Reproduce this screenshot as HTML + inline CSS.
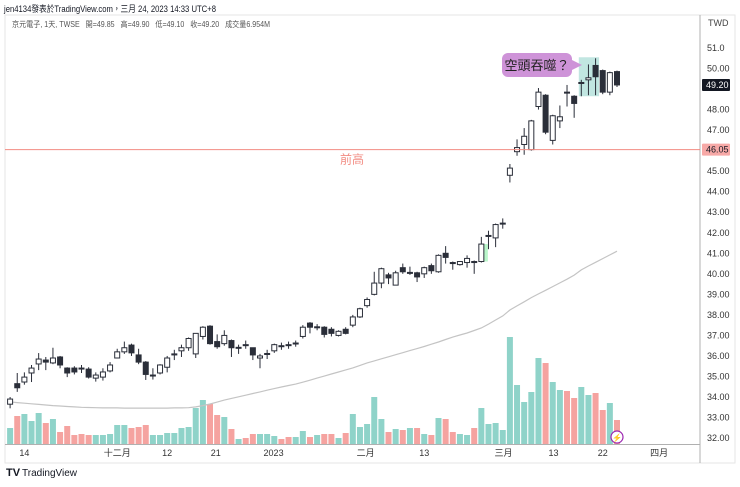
<!DOCTYPE html>
<html><head><meta charset="utf-8"><style>
body{margin:0;background:#fff;width:740px;height:482px;overflow:hidden;font-family:"Liberation Sans","Noto Sans CJK TC",sans-serif}
svg text{font-family:"Liberation Sans","Noto Sans CJK TC",sans-serif;white-space:pre}
</style></head><body>
<svg id="c" width="740" height="482" viewBox="0 0 740 482" xmlns="http://www.w3.org/2000/svg">
<rect x="0" y="0" width="740" height="482" fill="#fff"/>
<text x="4" y="12" font-size="9" fill="#131722" textLength="212" lengthAdjust="spacingAndGlyphs">jen4134發表於TradingView.com，三月 24, 2023 14:33 UTC+8</text>
<rect x="5" y="15" width="730" height="448" fill="none" stroke="#e6e6e6"/>
<text x="12" y="27" font-size="8" fill="#555" textLength="258" lengthAdjust="spacingAndGlyphs">京元電子, 1天, TWSE   開=49.85   高=49.90   低=49.10   收=49.20   成交量6.954M</text>
<text x="708" y="26" font-size="9" fill="#444">TWD</text>
<line x1="700" y1="15" x2="700" y2="463" stroke="#b0b0b0"/>
<line x1="5" y1="444.5" x2="700" y2="444.5" stroke="#b0b0b0"/>
<g id="vol"></g><g id="ma"></g><g id="candles"></g><g id="axes"></g>
<g><text x="6" y="476" font-size="11" font-weight="bold" fill="#131722">TV</text><text x="22" y="476" font-size="10" fill="#131722">TradingView</text></g>
</svg>
<script>
const opens=[33.65,34.65,34.73,35.17,35.61,35.80,35.66,35.95,35.41,35.41,35.41,35.36,34.92,34.97,35.27,35.9,36.2,36.53,36.05,35.7,35.05,35.17,35.45,36.05,36.25,36.4,36.1,36.95,37.45,36.7,36.6,36.75,36.4,36.55,36.4,35.9,36.1,36.25,36.5,36.55,36.62,36.95,37.6,37.4,37.4,37.3,37.0,37.3,37.5,37.9,38.45,39.0,39.55,39.95,39.45,40.3,40.05,40.05,40.0,40.4,40.1,41.0,40.55,40.45,40.55,40.6,40.6,41.85,41.75,42.45,44.8,45.95,46.3,46.05,48.15,48.7,46.5,47.45,48.85,48.65,49.3,49.45,50.15,49.9,48.85,49.85];
const closes=[33.9,34.45,34.97,35.41,35.85,35.70,35.9,35.56,35.17,35.22,35.38,34.97,35.07,35.22,35.56,36.2,36.4,36.15,35.7,35.1,35.07,35.56,35.9,36.1,36.4,36.85,37.1,37.4,36.6,36.45,37.0,36.4,36.42,36.53,36.05,36.0,36.12,36.55,36.45,36.53,36.63,37.4,37.4,37.42,37.05,37.1,37.2,37.1,37.9,38.3,38.75,39.55,40.25,39.8,40.05,40.1,40.07,39.85,40.3,40.15,40.9,40.8,40.5,40.6,40.75,40.55,41.45,41.87,42.4,42.47,45.15,46.15,46.7,47.45,48.85,46.9,47.7,47.65,48.83,48.3,49.32,49.55,49.6,48.85,49.8,49.2];
const highs=[34.0,35.17,35.2,35.56,36.14,35.95,36.4,36.0,35.45,35.5,35.56,35.45,35.2,35.4,35.7,36.35,36.7,36.6,36.35,35.75,35.4,35.6,36.0,36.3,36.55,36.9,37.1,37.45,37.5,37.05,37.25,36.8,36.55,36.75,36.4,36.1,36.3,36.6,36.65,36.7,36.75,37.5,37.65,37.55,37.45,37.4,37.25,37.4,38.0,38.35,38.85,40.1,40.3,40.05,40.15,40.5,40.35,40.1,40.35,40.5,40.95,41.35,40.6,40.62,40.9,40.65,41.8,42.1,42.45,42.7,45.35,46.55,47.1,47.5,49.05,48.75,47.75,48.2,49.2,48.7,49.45,50.2,50.5,49.95,49.85,49.9];
const lows=[33.45,34.25,34.6,34.73,35.31,35.31,35.6,35.4,34.97,35.1,35.17,34.9,34.75,34.8,35.2,35.9,36.1,36.0,35.6,34.83,34.85,35.1,35.2,35.8,35.95,36.25,35.9,36.8,36.55,36.35,36.5,35.95,36.1,36.35,35.8,35.4,35.85,36.15,36.3,36.35,36.45,36.85,37.1,37.25,36.9,36.95,36.95,37.05,37.4,37.85,38.35,38.95,39.3,39.5,39.45,40.0,39.95,39.6,39.8,40.0,40.05,40.5,40.2,40.4,40.3,40.0,40.55,41.2,41.3,42.2,44.45,45.75,45.8,46.0,48.0,46.8,46.3,47.1,48.15,47.6,48.65,48.7,48.7,48.75,48.7,49.1];
const volumes=[16,28,30,23,31,21,25,12,18,9,10,9,9,9,10,19,19,16,17,19,9,9,11,11,16,17,36,44,40,29,27,15,5,6,10,10,10,8,5,7,7,13,7,9,10,10,6,11,30,17,20,47,25,12,15,14,16,16,10,9,26,25,12,10,9,16,36,20,21,14,107,59,42,52,86,81,62,54,53,46,57,49,51,34,41,24];
const maValues=[33.76,33.73,33.70,33.67,33.64,33.61,33.58,33.56,33.54,33.52,33.50,33.49,33.48,33.47,33.47,33.47,33.46,33.46,33.46,33.46,33.46,33.46,33.46,33.47,33.47,33.48,33.52,33.58,33.66,33.75,33.85,33.93,34.01,34.09,34.17,34.25,34.33,34.41,34.49,34.56,34.63,34.72,34.82,34.92,35.02,35.12,35.22,35.32,35.42,35.54,35.66,35.76,35.86,35.96,36.06,36.16,36.26,36.36,36.46,36.57,36.68,36.80,36.92,37.02,37.12,37.24,37.36,37.55,37.75,37.95,38.24,38.44,38.64,38.84,39.02,39.20,39.38,39.56,39.74,39.94,40.19,40.38,40.56,40.74,40.92,41.10];
const priceTicks=[51,50,48,47,45,44,43,42,41,40,39,38,37,36,35,34,33,32];
const priceTickLabels=["51.0","50.00","48.00","47.00","45.00","44.00","43.00","42.00","41.00","40.00","39.00","38.00","37.00","36.00","35.00","34.00","33.00","32.00"];
const timeLabelIdx=[2,15,22,28.8,36.9,49.8,58,69.1,76.1,83,90.9];
const timeLabels=["14","十二月","12","21","2023","二月","13","三月","13","22","四月"];
const lastPrice=49.20, prevHigh=46.05;

const NS="http://www.w3.org/2000/svg";
const N=opens.length, step=7.14, lastX=617;
const xAt=i=>lastX-(N-1-i)*step;
const yAt=p=>48+(51-p)*20.53;
const vBase=444;
const vAt=v=>vBase-v;
function mk(tag,attrs,parent){const e=document.createElementNS(NS,tag);for(const k in attrs)e.setAttribute(k,attrs[k]);parent.appendChild(e);return e;}
const gV=document.getElementById('vol'),gC=document.getElementById('candles'),gM=document.getElementById('ma'),gA=document.getElementById('axes');
for(let i=0;i<N;i++){
  const up=closes[i]>=opens[i];
  const b=mk('rect',{x:xAt(i)-3,y:vAt(volumes[i]),width:6,height:vBase-vAt(volumes[i]),fill:up?'#8fd3c9':'#f5a3a0'},gV);
  
  
}
let d='';
for(let i=0;i<N;i++){d+=(i?'L':'M')+xAt(i).toFixed(1)+' '+yAt(maValues[i]).toFixed(1);}
const ml=mk('path',{d:d,fill:'none',stroke:'#c4c4c4','stroke-width':1.2},gM);


const hb=mk('rect',{x:xAt(80)-2.5,y:yAt(50.5)-1,width:xAt(82)-xAt(80)+6,height:yAt(48.7)-yAt(50.5)+2,fill:'#b2e0da',opacity:0.8},gC);


const gr=mk('rect',{x:xAt(66)+2.5,y:yAt(41.45),width:4,height:yAt(40.6)-yAt(41.45),fill:'#b9f6ca'},gC);


for(let i=0;i<N;i++){
  const up=closes[i]>=opens[i],x=xAt(i);
  const g=mk('g',{},gC);
  
  
  mk('line',{x1:x,x2:x,y1:yAt(highs[i]),y2:yAt(lows[i]),stroke:'#2a2e39','stroke-width':1},g);
  const t=yAt(Math.max(opens[i],closes[i])),bt=yAt(Math.min(opens[i],closes[i]));
  mk('rect',{x:x-2.5,y:t,width:5,height:Math.max(1,bt-t),fill:up?'#fff':'#2a2e39',stroke:'#2a2e39','stroke-width':1},g);
}
const ph=mk('line',{x1:5,x2:700,y1:yAt(prevHigh),y2:yAt(prevHigh),stroke:'#f28b82','stroke-width':1},gA);


const pt=mk('text',{x:340,y:yAt(prevHigh)+14,'font-size':12,fill:'#f28b82'},gA);pt.textContent='前高';


priceTicks.forEach((p,k)=>{const t=mk('text',{x:707,y:yAt(p)+3,'font-size':9,fill:'#333'},gA);t.textContent=priceTickLabels[k];
  
  });
function tag(p,bg,fg,name){const g=mk('g',{},gA);
  
  
  mk('rect',{x:702,y:yAt(p)-6,width:28,height:12,fill:bg,rx:1},g);
  const t=mk('text',{x:706,y:yAt(p)+3,'font-size':9,fill:fg},g);t.textContent=p.toFixed(2);}
tag(prevHigh,'#f7a9a7','#131722','previous-high-price-tag');
tag(lastPrice,'#131722','#fff','last-price-tag');
timeLabelIdx.forEach((ix,k)=>{const t=mk('text',{x:xAt(ix),y:456,'font-size':9,fill:'#333','text-anchor':'middle'},gA);t.textContent=timeLabels[k];
  
  });
const cg=mk('g',{},gA);


mk('rect',{x:502,y:53,width:70,height:24,rx:6,fill:'#ce93d8'},cg);
mk('path',{d:'M570 59 L582 65 L570 71 Z',fill:'#ce93d8'},cg);
const ct=mk('text',{x:537,y:70,'font-size':13,fill:'#222','text-anchor':'middle'},cg);ct.textContent='空頭吞噬？';
const lg=mk('g',{},gA);


mk('circle',{cx:617,cy:437,r:6,fill:'#fff',stroke:'#9c27b0','stroke-width':1.2},lg);
const lt=mk('text',{x:617,y:440.5,'font-size':8,fill:'#9c27b0','text-anchor':'middle'},lg);lt.textContent='⚡';
</script>
</body></html>
